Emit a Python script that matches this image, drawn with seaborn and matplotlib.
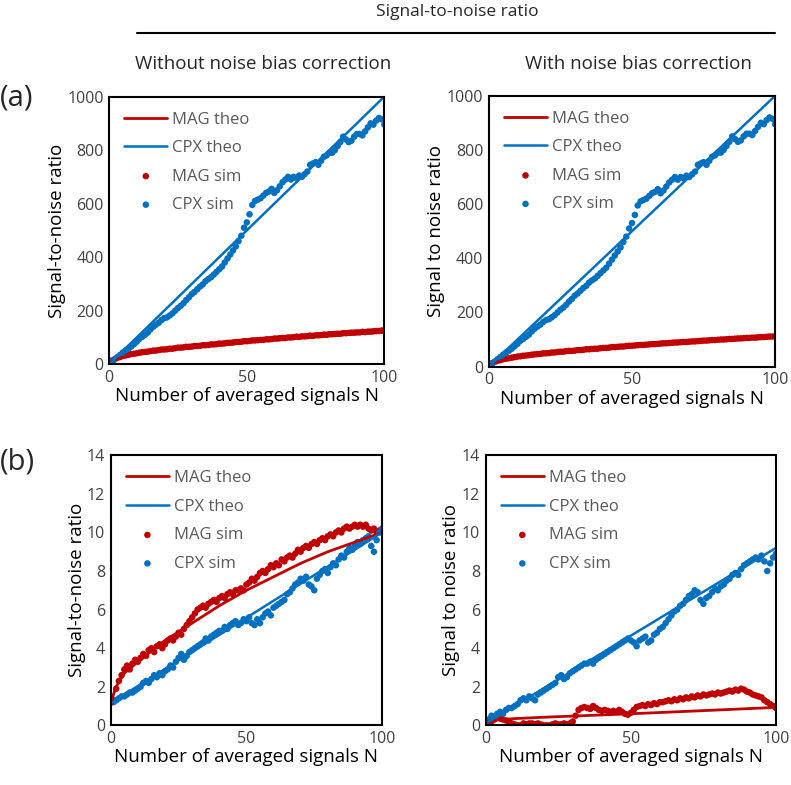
import numpy as np
import matplotlib
matplotlib.use("Agg")
import matplotlib.pyplot as plt
import seaborn as sns

RED = "#C00000"
BLUE = "#0070C0"
GREY = "#595959"

N = list(range(1, 101))

# ---- (a) top row, 0..1000 ----
cpx_sim_top = [10, 18, 27, 35, 44, 52, 58, 66, 75, 84,
               95, 102, 110, 118, 130, 140, 148, 155, 165, 172,
               175, 182, 190, 200, 210, 218, 228, 240, 250, 262,
               270, 280, 290, 298, 310, 318, 325, 335, 345, 355,
               365, 380, 395, 410, 425, 440, 460, 480, 510, 530,
               560, 595, 610, 615, 620, 630, 640, 645, 655, 640,
               650, 665, 680, 690, 700, 690, 700, 695, 705, 700,
               710, 720, 745, 750, 755, 745, 760, 775, 780, 790,
               790, 800, 815, 830, 850, 840, 830, 835, 850, 860,
               860, 855, 870, 885, 900, 895, 910, 920, 915, 895]

mag_sim_top_left = [14, 19, 24, 27, 31, 33, 35, 38, 39, 41,
                    43, 45, 46, 47, 49, 51, 51, 53, 55, 55,
                    56, 58, 58, 60, 62, 62, 63, 65, 65, 66,
                    68, 68, 69, 71, 71, 72, 74, 74, 75, 77,
                    77, 78, 80, 80, 81, 83, 83, 84, 86, 86,
                    87, 89, 89, 90, 91, 91, 93, 93, 94, 96,
                    96, 97, 98, 98, 100, 100, 101, 103, 102, 104,
                    104, 105, 107, 106, 108, 108, 109, 111, 110, 112,
                    112, 113, 114, 114, 116, 116, 117, 118, 118, 119,
                    119, 121, 120, 122, 122, 123, 124, 124, 126, 125]

mag_sim_top_right = [12, 17, 21, 24, 27, 29, 31, 33, 35, 37,
                     38, 40, 41, 42, 44, 45, 46, 47, 49, 49,
                     50, 52, 52, 54, 55, 55, 57, 58, 58, 59,
                     61, 61, 62, 64, 64, 65, 66, 66, 68, 69,
                     69, 70, 72, 72, 73, 74, 74, 76, 77, 77,
                     78, 79, 80, 80, 81, 82, 83, 83, 84, 85,
                     86, 86, 87, 88, 89, 89, 90, 91, 91, 92,
                     93, 93, 94, 95, 96, 96, 97, 98, 98, 99,
                     100, 100, 101, 102, 102, 103, 104, 104, 105, 106,
                     106, 107, 107, 108, 109, 109, 110, 111, 111, 112]

theo_n_top = [0, 1, 2, 5, 10, 20, 30, 40, 50, 60, 70, 80, 90, 100]
mag_theo_top_left = [0, 12, 17, 27, 38, 54, 66, 76, 85, 93, 100, 107, 114, 120]
mag_theo_top_right = [0, 10, 15, 24, 35, 49, 60, 70, 78, 85, 92, 98, 104, 110]
cpx_theo_n = [0, 100]
cpx_theo_top = [0, 1000]

# ---- (b) bottom row, 0..14 ----
mag_sim_bl = [1.3, 1.9, 2.3, 2.6, 2.9, 3.1, 2.9, 3.2, 3.4, 3.3,
              3.5, 3.7, 3.6, 3.9, 4.0, 3.8, 4.1, 4.2, 4.0, 4.2,
              4.4, 4.5, 4.4, 4.6, 4.8, 4.7, 5.0, 5.2, 5.4, 5.6,
              5.8, 6.0, 6.1, 6.2, 6.1, 6.3, 6.4, 6.5, 6.4, 6.6,
              6.7, 6.6, 6.8, 6.9, 6.8, 7.0, 7.0, 7.1, 7.0, 7.3,
              7.4, 7.6, 7.5, 7.7, 7.9, 8.0, 7.9, 8.1, 8.3, 8.2,
              8.4, 8.3, 8.6, 8.5, 8.7, 8.8, 8.7, 8.9, 9.1, 9.0,
              9.2, 9.3, 9.2, 9.4, 9.5, 9.4, 9.6, 9.7, 9.6, 9.8,
              9.9, 9.8, 10.0, 10.1, 10.0, 10.2, 10.3, 10.2, 10.3, 10.4,
              10.3, 10.4, 10.3, 10.4, 10.2, 10.1, 10.2, 10.0, 10.1, 10.0]

cpx_sim_bl = [1.2, 1.3, 1.4, 1.5, 1.5, 1.6, 1.7, 1.7, 1.8, 1.9,
              2.0, 2.2, 2.3, 2.2, 2.4, 2.6, 2.5, 2.7, 2.6, 2.8,
              2.9, 3.1, 3.0, 3.3, 3.5, 3.7, 3.4, 3.6, 3.8, 3.9,
              4.0, 4.1, 4.2, 4.3, 4.5, 4.4, 4.6, 4.7, 4.8, 4.9,
              4.9, 5.1, 5.0, 5.2, 5.3, 5.4, 5.2, 5.3, 5.5, 5.4,
              5.6, 5.3, 5.2, 5.5, 5.3, 5.6, 5.8, 5.9, 5.7, 6.1,
              6.2, 6.3, 6.4, 6.5, 6.8, 6.9, 7.1, 7.3, 7.4, 7.6,
              7.5, 7.7, 7.3, 7.2, 7.0, 7.6, 7.8, 8.0, 8.1, 7.9,
              8.2, 8.4, 8.3, 8.6, 8.8, 8.7, 9.0, 9.2, 9.1, 9.3,
              9.5, 9.4, 9.6, 9.7, 9.8, 9.3, 9.0, 9.6, 10.0, 10.2]

theo_n_bl = [0, 1, 2, 5, 10, 20, 30, 40, 50, 60, 70, 80, 90, 100]
mag_theo_bl = [1.0, 1.6, 2.0, 2.7, 3.3, 4.4, 5.3, 6.2, 7.0, 7.7, 8.4, 9.0, 9.5, 10.0]
cpx_theo_bl = [1.15, 10.0]

mag_sim_br = [0.1, 0.2, 0.3, 0.4, 0.35, 0.3, 0.25, 0.2, 0.1, 0.05,
              0.0, 0.0, 0.1, 0.05, 0.1, 0.1, 0.05, 0.1, 0.05, 0.0,
              0.0, 0.0, 0.05, 0.1, 0.05, 0.05, 0.1, 0.05, 0.1, 0.2,
              0.5, 0.8, 0.9, 0.95, 0.9, 0.85, 1.0, 0.9, 0.8, 0.75,
              0.8, 0.75, 0.7, 0.75, 0.7, 0.8, 0.7, 0.6, 0.55, 0.65,
              0.8, 0.95, 1.0, 1.05, 1.0, 1.1, 1.05, 1.15, 1.1, 1.2,
              1.2, 1.25, 1.3, 1.25, 1.35, 1.3, 1.4, 1.35, 1.45, 1.4,
              1.5, 1.45, 1.55, 1.5, 1.6, 1.55, 1.6, 1.65, 1.6, 1.7,
              1.65, 1.7, 1.75, 1.8, 1.75, 1.85, 1.8, 1.9, 1.85, 1.75,
              1.7, 1.6, 1.55, 1.5, 1.45, 1.3, 1.2, 1.1, 1.0, 0.9]

cpx_sim_br = [0.3, 0.5, 0.4, 0.6, 0.7, 0.6, 0.8, 0.9, 0.9, 1.0,
              1.1, 1.3, 1.4, 1.3, 1.5, 1.4, 1.3, 1.6, 1.7, 1.8,
              1.9, 2.0, 2.1, 2.2, 2.5, 2.6, 2.4, 2.5, 2.7, 2.8,
              2.9, 3.0, 3.1, 3.2, 3.2, 3.3, 3.2, 3.4, 3.5, 3.6,
              3.7, 3.8, 3.9, 4.0, 4.1, 4.2, 4.3, 4.4, 4.5, 4.4,
              4.3, 4.1, 4.4, 4.5, 4.6, 4.3, 4.4, 4.7, 4.8, 5.0,
              5.1, 5.3, 5.5, 5.7, 5.9, 6.0, 6.2, 6.3, 6.5, 6.7,
              6.8, 7.0, 6.9, 6.5, 6.3, 6.6, 6.7, 6.9, 7.1, 7.0,
              7.2, 7.3, 7.5, 7.6, 7.8, 7.9, 7.8, 8.1, 8.3, 8.4,
              8.5, 8.6, 8.7, 8.6, 8.8, 8.5, 8.0, 8.4, 8.7, 8.9]

theo_n_br = [0, 5, 10, 20, 30, 50, 70, 100]
mag_theo_br = [0.2, 0.3, 0.35, 0.42, 0.48, 0.6, 0.73, 0.93]
cpx_theo_br = [0.1, 9.2]

sns.set_style("white")
plt.rcParams["font.family"] = ["Open Sans", "DejaVu Sans"]

fig = plt.figure(figsize=(7.91, 7.85), dpi=100)


def panel(rect, mag_n, mag_theo, cpx_theo, mag_sim, cpx_sim, ymax, ystep, ylabel):
    ax = fig.add_axes(rect)
    sns.lineplot(x=mag_n, y=mag_theo, color=RED, lw=2.0, ax=ax, label="MAG theo")
    sns.lineplot(x=cpx_theo_n, y=cpx_theo, color=BLUE, lw=1.8, ax=ax, label="CPX theo")
    sns.scatterplot(x=N, y=mag_sim, color=RED, s=22, edgecolor="none", ax=ax, label="MAG sim")
    sns.scatterplot(x=N, y=cpx_sim, color=BLUE, s=22, edgecolor="none", ax=ax, label="CPX sim")
    ax.set_xlim(0, 100)
    ax.set_ylim(0, ymax)
    ax.set_xticks([0, 50, 100])
    ax.set_yticks(np.arange(0, ymax + 0.1, ystep))
    for s in ax.spines.values():
        s.set_color("black")
        s.set_linewidth(1.5)
    ax.tick_params(labelsize=11.5, colors="#404040", length=0, pad=4)
    ax.set_xlabel("Number of averaged signals N", fontsize=13.5, color="black", labelpad=1)
    ax.set_ylabel(ylabel, fontsize=13.5, color="black", labelpad=1)
    leg = ax.legend(loc="upper left", frameon=False, fontsize=12, handlelength=2.6,
                    handletextpad=0.3, labelspacing=0.75, borderaxespad=0.5)
    for t in leg.get_texts():
        t.set_color(GREY)
    return ax


panel([0.138, 0.536, 0.348, 0.341], theo_n_top, mag_theo_top_left, cpx_theo_top,
      mag_sim_top_left, cpx_sim_top, 1000, 200, "Signal-to-noise ratio")
panel([0.618, 0.533, 0.362, 0.345], theo_n_top, mag_theo_top_right, cpx_theo_top,
      mag_sim_top_right, cpx_sim_top, 1000, 200, "Signal to noise ratio")
panel([0.140, 0.076, 0.343, 0.344], theo_n_bl, mag_theo_bl, cpx_theo_bl,
      mag_sim_bl, cpx_sim_bl, 14, 2, "Signal-to-noise ratio")
panel([0.614, 0.076, 0.367, 0.344], theo_n_br, mag_theo_br, cpx_theo_br,
      mag_sim_br, cpx_sim_br, 14, 2, "Signal to noise ratio")

fig.text(0.578, 0.985, "Signal-to-noise ratio", ha="center", va="center", fontsize=12.5, color="#262626")
fig.add_artist(plt.Line2D([0.173, 0.98], [0.958, 0.958], color="black", lw=1.5))
fig.text(0.333, 0.918, "Without noise bias correction", ha="center", va="center", fontsize=13.5, color="#262626")
fig.text(0.807, 0.918, "With noise bias correction", ha="center", va="center", fontsize=13.5, color="#262626")
fig.text(0.0, 0.875, "(a)", ha="left", va="center", fontsize=21, color="#262626")
fig.text(0.0, 0.411, "(b)", ha="left", va="center", fontsize=21, color="#262626")

fig.savefig("out.png", dpi=100)
